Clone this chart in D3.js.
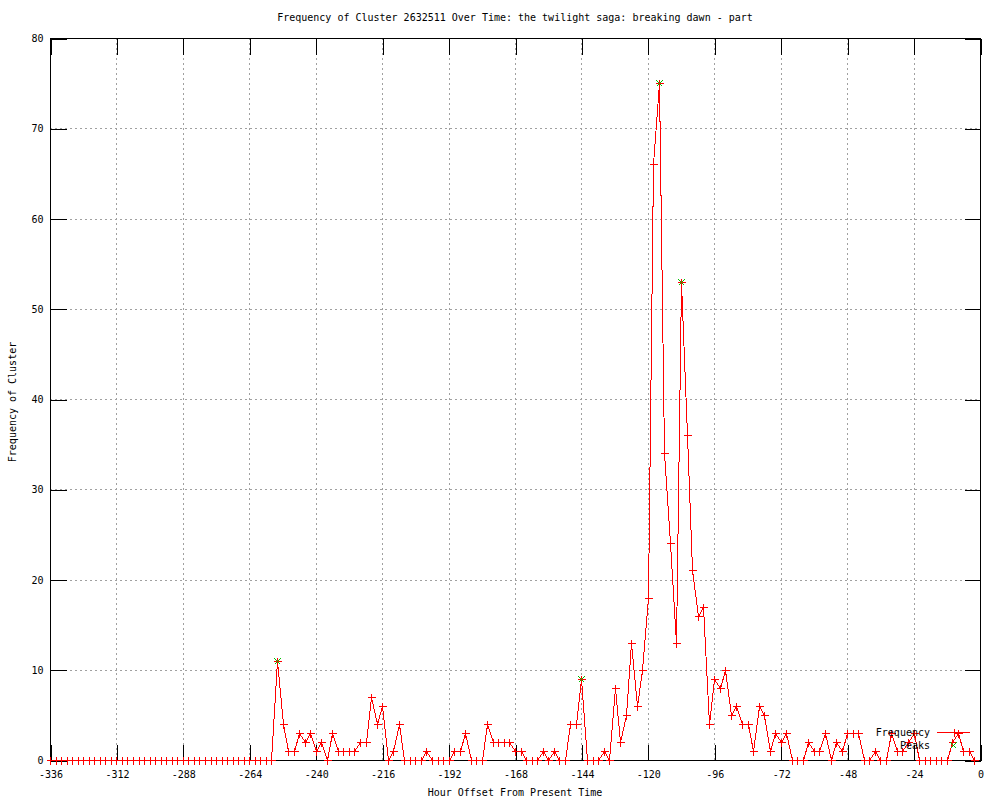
<!DOCTYPE html>
<html>
<head>
<meta charset="utf-8">
<script src="https://cdn.jsdelivr.net/npm/d3@7"></script>
<style>
  html, body { margin: 0; padding: 0; background: #fff; }
  svg { display: block; }
  text { font-family: "DejaVu Sans Mono", "Liberation Mono", monospace; font-size: 10px; fill: #000; }
</style>
</head>
<body>
<svg id="chart" width="1000" height="800"></svg>
<script>
// ---- data ----
const hours = [
  -336,-334,-332,-330,-328,-326,-324,-322,-320,-318,-316,-314,-312,-310,-308,-306,-304,-302,-300,-298,
  -296,-294,-292,-290,-288,-286,-284,-282,-280,-278,-276,-274,-272,-270,-268,-266,-264,-262,-260,-258,
  -256,-254,-252,-250,-248,-246,-244,-242,-240,-238,-236,-234,-232,-230,-228,-226,-224,-222,-220,-218,
  -216,-214,-212,-210,-208,-206,-204,-202,-200,-198,-196,-194,-192,-190,-188,-186,-184,-182,-180,-178,
  -176,-174,-172,-170,-168,-166,-164,-162,-160,-158,-156,-154,-152,-150,-148,-146,-144,-142,-140,-138,
  -136,-134,-132,-130,-128,-126,-124,-122,-120,-118,-116,-114,-112,-110,-108,-106,-104,-102,-100,-98,
  -96,-94,-92,-90,-88,-86,-84,-82,-80,-78,-76,-74,-72,-70,-68,-66,-64,-62,-60,-58,
  -56,-54,-52,-50,-48,-46,-44,-42,-40,-38,-36,-34,-32,-30,-28,-26,-24,-22,-20,-18,
  -16,-14,-12,-10,-8,-6,-4,-2
];
const frequency = [
  0,0,0,0,0,0,0,0,0,0,0,0,0,0,0,0,0,0,0,0,
  0,0,0,0,0,0,0,0,0,0,0,0,0,0,0,0,0,0,0,0,
  0,11,4,1,1,3,2,3,1,2,0,3,1,1,1,1,2,2,7,4,
  6,0,1,4,0,0,0,0,1,0,0,0,0,1,1,3,0,0,0,4,
  2,2,2,2,1,1,0,0,0,1,0,1,0,0,4,4,9,0,0,0,
  1,0,8,2,5,13,6,10,18,66,75,34,24,13,53,36,21,16,17,4,
  9,8,10,5,6,4,4,1,6,5,1,3,2,3,0,0,0,2,1,1,
  3,0,2,1,3,3,3,0,0,1,0,0,3,1,1,2,3,0,0,0,
  0,0,0,2,3,1,1,0
];
const peakHours = [-254, -144, -116, -108];
const peakValues = [11, 9, 75, 53];
const xTicks = [-336,-312,-288,-264,-240,-216,-192,-168,-144,-120,-96,-72,-48,-24,0];
const yTicks = [0,10,20,30,40,50,60,70,80];
const titleText = "Frequency of Cluster 2632511 Over Time: the twilight saga: breaking dawn - part";
const xLabel = "Hour Offset From Present Time";
const yLabel = "Frequency of Cluster";
const seriesNames = ["Frequency", "Peaks"];

// ---- drawing ----
const svg = d3.select("#chart");
const L = 50, R = 980, T = 38, B = 760;
const RED = "#ff0000", GREEN = "#00c000", GRID = "#a0a0a0";

svg.append("rect").attr("width", 1000).attr("height", 800).attr("fill", "#fff");

const x = d3.scaleLinear().domain([-336, 0]).range([L, R]);
const y = d3.scaleLinear().domain([0, 80]).range([B, T]);
const px = v => Math.round(x(v)) + 0.5;
const py = v => Math.round(y(v)) + 0.5;

// grid
const grid = svg.append("g").attr("stroke", GRID).attr("stroke-width", 1)
  .attr("stroke-dasharray", "2,3").attr("shape-rendering", "crispEdges");
xTicks.filter(t => t !== -336 && t !== 0).forEach(t => {
  grid.append("line").attr("x1", px(t)).attr("x2", px(t)).attr("y1", T).attr("y2", B);
});
yTicks.filter(t => t !== 0 && t !== 80).forEach(t => {
  grid.append("line").attr("x1", L).attr("x2", R).attr("y1", py(t)).attr("y2", py(t));
});

// axes (ticks inside, mirrored)
const tickLen = 16;
function styleAxis(g) {
  g.select(".domain").remove();
  g.selectAll(".tick line").attr("stroke", "#000").attr("shape-rendering", "crispEdges");
  g.selectAll("text").attr("font-family", "DejaVu Sans Mono, monospace").attr("font-size", 10).attr("fill", "#000");
}
const fmt = d => String(d);
svg.append("g").attr("transform", `translate(0.5,${B + 0.5})`)
  .call(d3.axisBottom(x).tickValues(xTicks).tickFormat(fmt).tickSizeInner(-tickLen).tickSizeOuter(0).tickPadding(10))
  .call(styleAxis);
svg.append("g").attr("transform", `translate(0.5,${T + 0.5})`)
  .call(d3.axisTop(x).tickValues(xTicks).tickFormat("").tickSizeInner(-tickLen).tickSizeOuter(0))
  .call(styleAxis);
svg.append("g").attr("transform", `translate(${L + 0.5},0.5)`)
  .call(d3.axisLeft(y).tickValues(yTicks).tickFormat(fmt).tickSizeInner(-tickLen).tickSizeOuter(0).tickPadding(7))
  .call(styleAxis);
svg.append("g").attr("transform", `translate(${R + 0.5},0.5)`)
  .call(d3.axisRight(y).tickValues(yTicks).tickFormat("").tickSizeInner(-tickLen).tickSizeOuter(0))
  .call(styleAxis);

// border
svg.append("rect").attr("x", L + 0.5).attr("y", T + 0.5).attr("width", R - L).attr("height", B - T)
  .attr("fill", "none").attr("stroke", "#000").attr("stroke-width", 1).attr("shape-rendering", "crispEdges");

// frequency line
const data = hours.map((h, i) => ({ h, v: frequency[i] }));
svg.append("path").datum(data)
  .attr("d", d3.line().x(d => px(d.h)).y(d => py(d.v)))
  .attr("fill", "none").attr("stroke", RED).attr("stroke-width", 1)
  .attr("shape-rendering", "crispEdges");

const plusPath = (cx, cy, s) => `M${cx - s},${cy}H${cx + s}M${cx},${cy - s}V${cy + s}`;
const crossPath = (cx, cy, s) => `M${cx - s},${cy - s}L${cx + s},${cy + s}M${cx - s},${cy + s}L${cx + s},${cy - s}`;

svg.append("g").selectAll("path").data(data).join("path")
  .attr("d", d => plusPath(px(d.h), py(d.v), 4))
  .attr("stroke", RED).attr("stroke-width", 1).attr("fill", "none")
  .attr("shape-rendering", "crispEdges");

// peaks
const peaks = peakHours.map((h, i) => ({ h, v: peakValues[i] }));
svg.append("g").selectAll("path").data(peaks).join("path")
  .attr("d", d => crossPath(px(d.h), py(d.v), 3))
  .attr("stroke", GREEN).attr("stroke-width", 1).attr("fill", "none")
  .attr("shape-rendering", "crispEdges");

// titles
svg.append("text").attr("x", 515).attr("y", 18).attr("text-anchor", "middle")
  .attr("dominant-baseline", "middle").text(titleText);
svg.append("text").attr("x", 515).attr("y", 793).attr("text-anchor", "middle")
  .attr("dominant-baseline", "middle").text(xLabel);
svg.append("text").attr("transform", "translate(13,402) rotate(-90)").attr("text-anchor", "middle")
  .attr("dominant-baseline", "middle").text(yLabel);

// legend
const leg = svg.append("g");
leg.append("text").attr("x", 930).attr("y", 733).attr("text-anchor", "end")
  .attr("dominant-baseline", "middle").text(seriesNames[0]);
leg.append("line").attr("x1", 937).attr("x2", 970).attr("y1", 732.5).attr("y2", 732.5)
  .attr("stroke", RED).attr("shape-rendering", "crispEdges");
leg.append("path").attr("d", plusPath(954.5, 732.5, 4)).attr("stroke", RED).attr("fill", "none")
  .attr("shape-rendering", "crispEdges");
leg.append("text").attr("x", 930).attr("y", 746).attr("text-anchor", "end")
  .attr("dominant-baseline", "middle").text(seriesNames[1]);
leg.append("path").attr("d", crossPath(953.5, 745.5, 3)).attr("stroke", GREEN).attr("fill", "none")
  .attr("shape-rendering", "crispEdges");
</script>
</body>
</html>
